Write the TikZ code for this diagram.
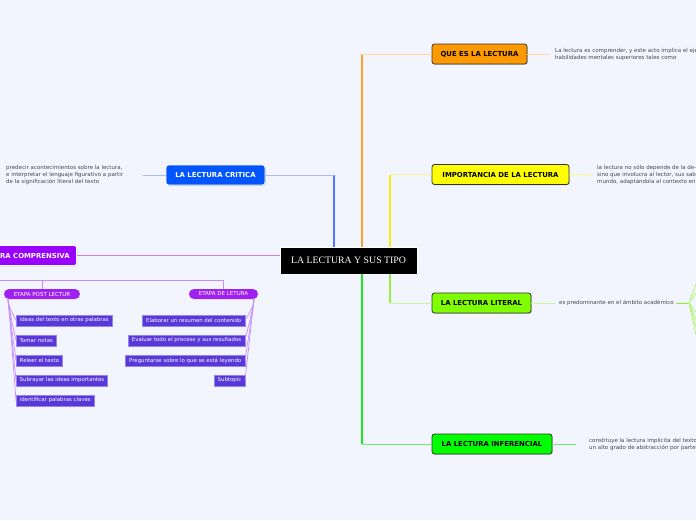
\documentclass[tikz,border=0pt]{standalone}
\usepackage{fontspec}
\setmainfont{Liberation Serif}
\setsansfont{DejaVu Sans}
\usetikzlibrary{shadows}
\definecolor{bg}{RGB}{242,245,254}
\definecolor{cOrange}{RGB}{255,153,0}
\definecolor{cYellow}{RGB}{255,255,0}
\definecolor{cLit}{RGB}{128,255,0}
\definecolor{cInf}{RGB}{0,255,0}
\definecolor{cCrit}{RGB}{0,85,255}
\definecolor{cComp}{RGB}{153,0,255}
\definecolor{cPill}{RGB}{160,32,240}
\definecolor{cSub}{RGB}{88,56,216}
\definecolor{cSubEdge}{RGB}{150,130,240}
\definecolor{txt}{RGB}{70,70,80}
\tikzset{
  mainbox/.style={draw=black!80, line width=0.8pt, rounded corners=2.5pt, minimum height=20, inner xsep=7, inner ysep=0,
    font=\fontsize{6.9}{7}\selectfont\sffamily\bfseries, drop shadow={shadow xshift=0.8pt, shadow yshift=-0.8pt, fill=black!35}},
  note/.style={inner sep=0, align=left, text=txt, font=\fontsize{5.5}{7}\selectfont\sffamily},
  pill/.style={fill=cPill, text=white, rounded corners=5pt, minimum height=10, inner sep=0, font=\fontsize{5.5}{6}\selectfont\sffamily},
  subbox/.style={fill=cSub, draw=cSubEdge, line width=0.5pt, text=white, minimum height=11, inner xsep=3.5, inner ysep=0,
    font=\fontsize{5.4}{6}\selectfont\sffamily, drop shadow={shadow xshift=0.6pt, shadow yshift=-0.6pt, fill=black!25}},
  sublink/.style={draw={rgb,255:red,200;green,140;blue,255}, line width=0.7pt},
}
\begin{document}
\begin{tikzpicture}[x=1pt,y=-1pt]
\clip (0,0) rectangle (696,520);
\fill[bg] (0,0) rectangle (696,520);

% central node
\node[fill=black, draw=white, line width=0.6pt, text=white, minimum width=137, minimum height=27, inner sep=0,
  font=\fontsize{9.8}{10}\selectfont] (c) at (348.5,260.5) {LA LECTURA Y SUS TIPO};

% main topics
\node[mainbox, fill=cOrange, minimum width=95] (que) at (479.5,54) {QUE ES LA LECTURA};
\node[mainbox, fill=cYellow, minimum width=137] (imp) at (500.5,174.5) {IMPORTANCIA DE LA LECTURA};
\node[mainbox, fill=cLit, minimum width=99] (lit) at (481.5,303) {LA LECTURA LITERAL};
\node[mainbox, fill=cInf, minimum width=120] (inf) at (492,444) {LA LECTURA INFERENCIAL};
\node[mainbox, fill=cCrit, text=white, draw=white, minimum width=99] (crit) at (215.5,175) {LA LECTURA CRITICA};
\node[mainbox, fill=cComp, text=white, draw=white, anchor=east] (comp) at (77,255.5) {LA LECTURA COMPRENSIVA};

% connectors from centre
\coordinate (o1) at ([xshift=13.5pt]c.north);
\coordinate (o2) at (o1 |- que.west);
\draw[line width=1.1pt, color={rgb,255:red,255;green,160;blue,40}] (o1) -- (o2);
\draw[line width=1pt, color={rgb,255:red,255;green,216;blue,160}] (o2) -- (que.west);

\coordinate (y1) at ([xshift=41.5pt]c.north);
\coordinate (y2) at (y1 |- imp.west);
\draw[line width=1.1pt, color={rgb,255:red,240;green,240;blue,20}] (y1) -- (y2);
\draw[line width=1pt, color={rgb,255:red,245;green,245;blue,150}] (y2) -- (imp.west);

\coordinate (b1) at ([xshift=-14.5pt]c.north);
\coordinate (b2) at (b1 |- crit.east);
\draw[line width=1.1pt, color={rgb,255:red,80;green,120;blue,255}] (b1) -- (b2);
\draw[line width=1pt, color={rgb,255:red,168;green,189;blue,245}] (b2) -- (crit.east);

\coordinate (g1) at ([xshift=41.5pt]c.south);
\coordinate (g2) at (g1 |- lit.west);
\draw[line width=1.1pt, color={rgb,255:red,150;green,240;blue,60}] (g1) -- (g2);
\draw[line width=1pt, color={rgb,255:red,200;green,247;blue,160}] (g2) -- (lit.west);

\coordinate (i1) at ([xshift=13.5pt]c.south);
\coordinate (i2) at (i1 |- inf.west);
\draw[line width=1.1pt, color={rgb,255:red,30;green,235;blue,30}] (i1) -- (i2);
\draw[line width=1pt, color={rgb,255:red,110;green,235;blue,110}] (i2) -- (inf.west);

\coordinate (p1) at (c.west |- comp.east);
\draw[line width=1pt, color={rgb,255:red,200;green,130;blue,240}] (p1) -- (comp.east);

% notes
\node[note, anchor=west] (queT) at (555,54) {La lectura es comprender, y este acto implica el ejercicio de\\habilidades mentales superiores tales como};
\draw[line width=1pt, color={rgb,255:red,255;green,216;blue,160}] (que.east) -- ([xshift=-5pt]queT.west);

\node[note, anchor=west] (impT) at (597,175) {la lectura no s\'olo depende de la de-codificaci\'on\\sino que involucra al lector, sus saberes\\mundo, adapt\'andola al contexto en que};
\draw[line width=1pt, color={rgb,255:red,245;green,245;blue,150}] (imp.east) -- ([xshift=-4pt]impT.west);

\node[note, anchor=west] (litT) at (559,303) {es predominante en el \'ambito acad\'emico};
\draw[line width=1pt, color={rgb,255:red,200;green,247;blue,160}] (lit.east) -- ([xshift=-4pt]litT.west);
\coordinate (lf) at (689,303);
\draw[line width=1pt, color={rgb,255:red,140;green,240;blue,50}] ([xshift=2pt]litT.east) -- (lf);
\foreach \yy in {262,282,322,338,354,372}
  \draw[line width=0.8pt, color={rgb,255:red,180;green,245;blue,120}] (lf) -- (704,\yy);

\node[note, anchor=west] (infT) at (589,444) {constituye la lectura impl\'icita del texto, y requiere\\un alto grado de  abstracci\'on por parte del lector};
\draw[line width=1pt, color={rgb,255:red,110;green,235;blue,110}] (inf.east) -- ([xshift=-13pt]infT.west);

\node[note, anchor=west] (critT) at (6,175) {predecir acontecimientos sobre la lectura,\\e interpretar el lenguaje  figurativo a partir\\de la significaci\'on literal del texto};
\coordinate (ce) at (143,175);
\draw[line width=1pt, color={rgb,255:red,168;green,189;blue,245}] (crit.west) -- (ce);

% comprensiva subtree
\node[pill, minimum width=76] (pl) at (42,294) {ETAPA POST LECTUR};
\node[pill, minimum width=69] (pr) at (223.5,294) {ETAPA DE LETURA};
\coordinate (j) at (-10,280);
\draw[sublink] (j) -| (pl.north);
\draw[sublink] (j) -| (pr.north);

\node[subbox, anchor=west] (l1) at (16,320.5) {ideas del texto en otras palabras};
\node[subbox, anchor=west] (l2) at (16,340.5) {Tomar notas};
\node[subbox, anchor=west] (l3) at (16,360.5) {Releer el texto};
\node[subbox, anchor=west] (l4) at (16,380.5) {Subrayar las ideas importantes};
\node[subbox, anchor=west] (l5) at (16,400.5) {identificar palabras claves};
\coordinate (plo) at ([shift={(4pt,1pt)}]pl.south west);
\foreach \n in {l1,l2,l3,l4,l5}
  \draw[sublink] (plo) .. controls ([shift={(1pt,-8pt)}]plo) .. (\n.west);

\node[subbox, anchor=east] (r1) at (245,320.5) {Elaborar un resumen del contenido};
\node[subbox, anchor=east] (r2) at (245,340.5) {Evaluar todo el proceso y sus resultados};
\node[subbox, anchor=east] (r3) at (245,360.5) {Preguntarse sobre lo que se est\'a leyendo};
\node[subbox, anchor=east] (r4) at (245,380.5) {Subtopic};
\coordinate (pro) at ([shift={(-4pt,1pt)}]pr.south east);
\foreach \n in {r1,r2,r3,r4}
  \draw[sublink] (pro) .. controls ([shift={(-1pt,-8pt)}]pro) .. (\n.east);
\end{tikzpicture}
\end{document}
